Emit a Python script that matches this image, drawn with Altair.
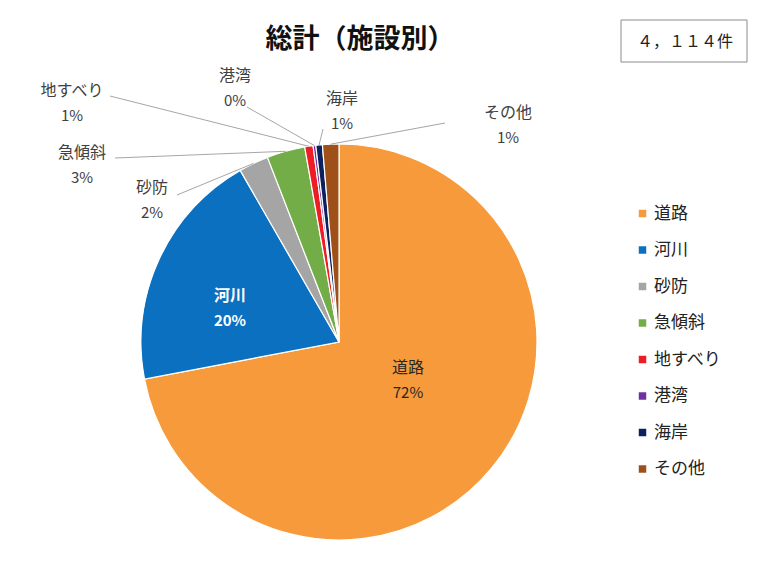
import altair as alt
import pandas as pd

# ---- data ----
categories = ["道路", "河川", "砂防", "急傾斜", "地すべり", "港湾", "海岸", "その他"]
counts = [2962, 810, 100, 128, 28, 9, 22, 55]
colors = ["#F79A3B", "#0B70C0", "#A5A5A5", "#72AD47", "#EE1C24", "#7030A0", "#0B2160", "#9E5018"]
title_text = "総計（施設別）"
total_text = "４，１１４件"

# ---- layout (label placement, pixels) ----
CX, CY, R = 339, 342, 198
label_x = [408, 230, 152, 82, 72, 235, 342, 508]
label_y = [380, 308, 200, 165, 103, 88, 111, 125]
inside = [True, True, False, False, False, False, False, False]
leader_x = [None, None, 177, 115, 110, 247, 323, 445]
leader_y = [None, None, 195, 158, 96, 107, 129, 123]

FONT = "Noto Sans CJK JP"

df = pd.DataFrame({
    "cat": categories,
    "count": counts,
    "order": list(range(len(categories))),
    "lx": label_x,
    "ly": label_y,
    "inside": inside,
    "sx": leader_x,
    "sy": leader_y,
})

base = alt.Chart(df).transform_joinaggregate(
    total="sum(count)"
).transform_window(
    cum="sum(count)", sort=[alt.SortField("order")]
).transform_calculate(
    pct="datum.count / datum.total",
    mid="(datum.cum - datum.count / 2) / datum.total * 2 * PI",
    pct_label="format(datum.count / datum.total, '.0%')",
)

pie = alt.Chart(df).mark_arc(radius=R, stroke="white", strokeWidth=1.2).encode(
    theta=alt.Theta("count:Q", stack=True),
    order=alt.Order("order:Q"),
    color=alt.Color(
        "cat:N",
        scale=alt.Scale(domain=categories, range=colors),
        sort=categories,
        legend=alt.Legend(
            title=None,
            orient="none",
            legendX=634,
            legendY=205,
            symbolType="square",
            symbolSize=56,
            symbolStrokeWidth=0,
            labelFont=FONT,
            labelFontSize=17,
            labelColor="#222222",
            labelOffset=3,
            rowPadding=18.5,
            padding=0,
        ),
    ),
    x=alt.value(CX),
    y=alt.value(CY),
)

leaders = base.transform_filter("datum.sx != null").transform_calculate(
    ex=f"{CX} + {R} * sin(datum.mid)",
    ey=f"{CY} - {R} * cos(datum.mid)",
).mark_rule(color="#A6A6A6", strokeWidth=1).encode(
    x=alt.X("sx:Q", scale=None),
    y=alt.Y("sy:Q", scale=None),
    x2="ex:Q",
    y2="ey:Q",
)

def label_layer(filter_expr, color, weight):
    b = base.transform_filter(filter_expr)
    t1 = b.mark_text(font=FONT, fontSize=16, color=color, fontWeight=weight, dy=-12,
                     baseline="middle", align="center").encode(
        x=alt.X("lx:Q", scale=None), y=alt.Y("ly:Q", scale=None), text="cat:N")
    t2 = b.mark_text(font=FONT, fontSize=15, color=color, fontWeight=weight, dy=13,
                     baseline="middle", align="center").encode(
        x=alt.X("lx:Q", scale=None), y=alt.Y("ly:Q", scale=None), text="pct_label:N")
    return t1 + t2

lab_road = label_layer("datum.cat == '道路'", "#262626", "normal")
lab_river = label_layer("datum.cat == '河川'", "white", "bold")
lab_out = label_layer("!datum.inside", "#404040", "normal")

title = alt.Chart(pd.DataFrame({"t": [title_text]})).mark_text(
    font=FONT, fontSize=27, fontWeight="bold", color="#111111", align="center", baseline="middle"
).encode(x=alt.value(360), y=alt.value(40), text="t:N")

box = alt.Chart(pd.DataFrame({"t": [total_text]})).mark_rect(
    fill="white", stroke="#8C8C8C", strokeWidth=1
).encode(x=alt.value(621), x2=alt.value(747), y=alt.value(20), y2=alt.value(62))

box_text = alt.Chart(pd.DataFrame({"t": [total_text]})).mark_text(
    font=FONT, fontSize=16, color="#222222", align="center", baseline="middle"
).encode(x=alt.value(685), y=alt.value(42), text="t:N")

chart = alt.layer(pie, leaders, lab_road, lab_river, lab_out, title, box, box_text).properties(
    width=772, height=562, autosize=alt.AutoSizeParams(type="none"), padding=0,
    background="white",
).configure_view(stroke=None)

chart.save("out.html", embed_options={"renderer": "svg", "actions": False})
